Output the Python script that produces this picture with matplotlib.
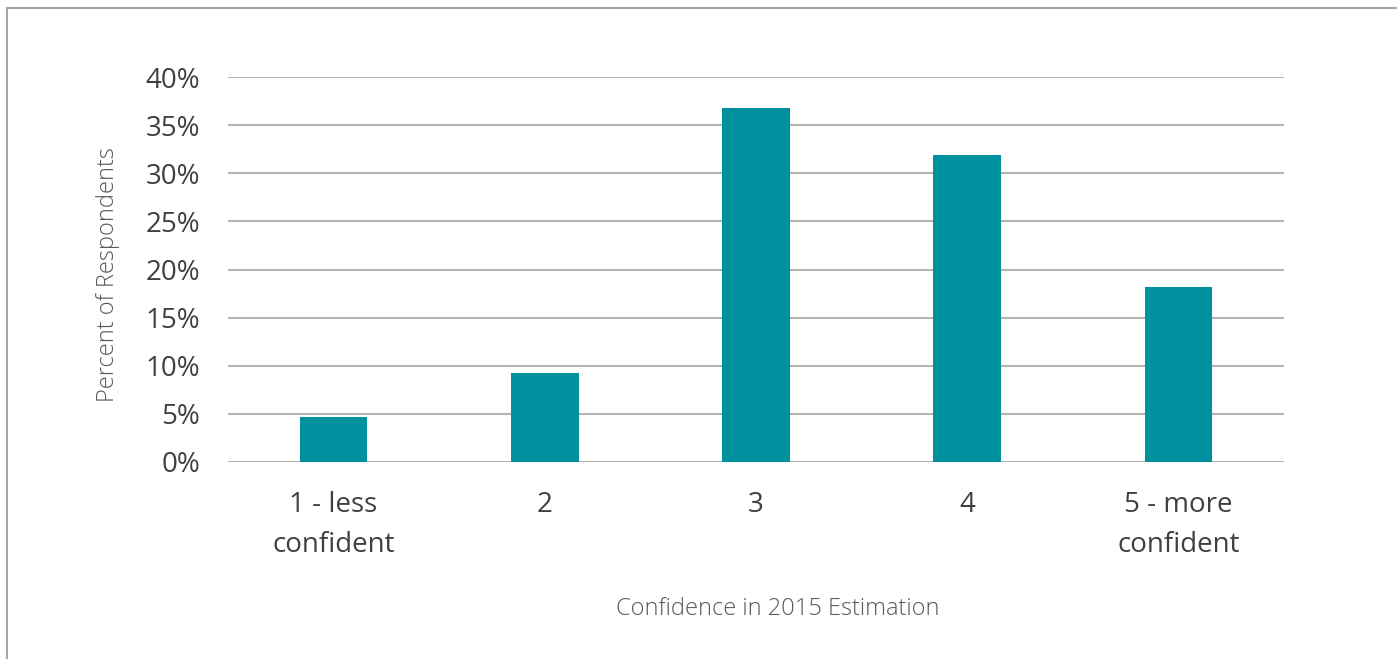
import matplotlib.pyplot as plt
from matplotlib.lines import Line2D

categories = ['1 - less\nconfident', '2', '3', '4', '5 - more\nconfident']
percents = [0.047, 0.092, 0.368, 0.319, 0.182]
yticks = [0, 0.05, 0.10, 0.15, 0.20, 0.25, 0.30, 0.35, 0.40]

plt.rcParams['font.family'] = ['Open Sans', 'DejaVu Sans']

fig = plt.figure(figsize=(13.97, 6.59), dpi=100)
ax = fig.add_axes([228/1397, 1 - 462/659, (1284 - 228)/1397, (462 - 77)/659])

x = range(len(categories))
ax.bar(x, percents, width=0.32, color='#00919f', zorder=3)

ax.set_xlim(-0.5, len(categories) - 0.5)
ax.set_ylim(0, 0.40)
ax.set_yticks(yticks)
ax.set_yticklabels(['%d%%' % round(v * 100) for v in yticks])
ax.set_xticks(list(x))
ax.set_xticklabels(categories, linespacing=1.55)

ax.grid(axis='y', color='#b4b4b4', linewidth=1.5, zorder=0)
ax.tick_params(axis='both', length=0, labelsize=20, labelcolor='#404040')
ax.tick_params(axis='x', pad=21)
ax.tick_params(axis='y', pad=20)
for s in ax.spines.values():
    s.set_visible(False)

fig.text(108/1397, 1 - 275/659, 'Percent of Respondents', rotation=90,
         ha='center', va='center', fontsize=17, color='#595959', fontweight='light')
fig.text(778/1397, 1 - 609/659, 'Confidence in 2015 Estimation',
         ha='center', va='center', fontsize=17, color='#595959', fontweight='light')

# outer frame
fig.add_artist(Line2D([7/1397, 7/1397], [0, 1 - 8/659], transform=fig.transFigure,
                      color='#a6a6a6', linewidth=1.5))
fig.add_artist(Line2D([7/1397, 1], [1 - 8/659, 1 - 8/659], transform=fig.transFigure,
                      color='#a6a6a6', linewidth=1.5))

fig.savefig('out.png', dpi=100)
